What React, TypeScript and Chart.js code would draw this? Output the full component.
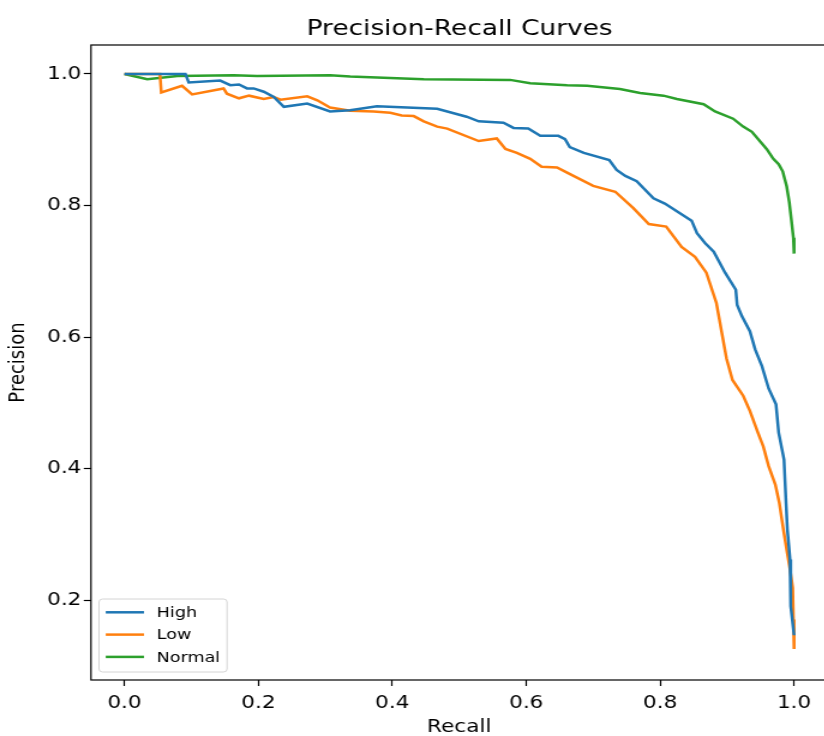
import { useEffect, useRef } from "react";
import { Chart, registerables } from "chart.js";

Chart.register(...registerables);

const chartTitle = "Precision-Recall Curves";
const xLabel = "Recall";
const yLabel = "Precision";
const seriesNames = ["High", "Low", "Normal"];
const seriesColors = ["#1f77b4", "#ff7f0e", "#2ca02c"];
const xTicks = [0.0, 0.2, 0.4, 0.6, 0.8, 1.0];
const yTicks = [0.2, 0.4, 0.6, 0.8, 1.0];

const highRecall = [0, 0.091, 0.096, 0.143, 0.158, 0.171, 0.183, 0.193, 0.208, 0.223, 0.238, 0.273, 0.307, 0.337, 0.377, 0.422, 0.467, 0.511, 0.529, 0.566, 0.581, 0.603, 0.621, 0.648, 0.658, 0.665, 0.686, 0.724, 0.735, 0.748, 0.765, 0.790, 0.807, 0.847, 0.855, 0.867, 0.880, 0.897, 0.913, 0.915, 0.922, 0.934, 0.942, 0.952, 0.962, 0.973, 0.977, 0.985, 0.988, 0.990, 0.994, 0.995, 1.0];
const highPrecision = [1.0, 1.0, 0.987, 0.990, 0.983, 0.984, 0.978, 0.978, 0.973, 0.965, 0.950, 0.955, 0.943, 0.945, 0.951, 0.949, 0.947, 0.935, 0.928, 0.926, 0.918, 0.917, 0.906, 0.906, 0.901, 0.889, 0.880, 0.869, 0.854, 0.845, 0.837, 0.811, 0.803, 0.777, 0.758, 0.743, 0.730, 0.698, 0.672, 0.649, 0.632, 0.609, 0.581, 0.556, 0.522, 0.498, 0.455, 0.414, 0.348, 0.308, 0.262, 0.191, 0.147];

const lowRecall = [0, 0.053, 0.055, 0.086, 0.101, 0.148, 0.153, 0.171, 0.186, 0.208, 0.223, 0.233, 0.273, 0.288, 0.307, 0.337, 0.372, 0.397, 0.414, 0.432, 0.447, 0.467, 0.482, 0.529, 0.556, 0.569, 0.586, 0.606, 0.623, 0.646, 0.661, 0.700, 0.733, 0.760, 0.783, 0.809, 0.832, 0.852, 0.869, 0.884, 0.899, 0.908, 0.924, 0.934, 0.946, 0.954, 0.962, 0.972, 0.978, 0.984, 0.989, 0.994, 0.998, 0.999, 1.0];
const lowPrecision = [1.0, 1.0, 0.972, 0.982, 0.969, 0.978, 0.970, 0.963, 0.967, 0.962, 0.965, 0.961, 0.966, 0.960, 0.949, 0.944, 0.943, 0.941, 0.937, 0.936, 0.928, 0.920, 0.917, 0.898, 0.902, 0.886, 0.880, 0.871, 0.859, 0.858, 0.850, 0.830, 0.821, 0.796, 0.772, 0.768, 0.737, 0.722, 0.698, 0.652, 0.568, 0.535, 0.511, 0.488, 0.455, 0.434, 0.404, 0.376, 0.348, 0.308, 0.277, 0.247, 0.219, 0.171, 0.126];

const normalRecall = [0, 0.034, 0.079, 0.163, 0.198, 0.307, 0.337, 0.447, 0.576, 0.606, 0.661, 0.691, 0.740, 0.770, 0.805, 0.825, 0.865, 0.882, 0.909, 0.924, 0.937, 0.959, 0.969, 0.977, 0.983, 0.989, 0.993, 0.996, 0.999, 1.0];
const normalPrecision = [1.0, 0.992, 0.997, 0.998, 0.997, 0.998, 0.996, 0.992, 0.991, 0.986, 0.983, 0.982, 0.977, 0.971, 0.967, 0.962, 0.954, 0.943, 0.932, 0.920, 0.912, 0.886, 0.871, 0.863, 0.852, 0.829, 0.804, 0.778, 0.751, 0.727];

const xMin = -0.05;
const xMax = 1.05;
const yMin = 0.079;
const yMax = 1.044;

const STRETCH = 1.2;
const W = 766;
const H = 736;
const PLOT_LEFT = 75.8;
const PLOT_RIGHT = 689.6;
const PLOT_BOTTOM = 680;
const FONT = "'DejaVu Sans', sans-serif";

const framePlugin = {
  id: "frameAndLegend",
  afterDatasetsDraw(chart: any) {
    const { ctx, chartArea: a } = chart;
    ctx.save();
    ctx.strokeStyle = "#000";
    ctx.lineWidth = 1.2;
    ctx.strokeRect(a.left, a.top, a.right - a.left, a.bottom - a.top);

    const lw = 106.7;
    const lh = 73;
    const lx = a.left + 6.7;
    const ly = a.bottom - 8 - lh;
    const r = 3;
    ctx.beginPath();
    ctx.moveTo(lx + r, ly);
    ctx.lineTo(lx + lw - r, ly);
    ctx.arcTo(lx + lw, ly, lx + lw, ly + r, r);
    ctx.lineTo(lx + lw, ly + lh - r);
    ctx.arcTo(lx + lw, ly + lh, lx + lw - r, ly + lh, r);
    ctx.lineTo(lx + r, ly + lh);
    ctx.arcTo(lx, ly + lh, lx, ly + lh - r, r);
    ctx.lineTo(lx, ly + r);
    ctx.arcTo(lx, ly, lx + r, ly, r);
    ctx.closePath();
    ctx.fillStyle = "rgba(255,255,255,0.8)";
    ctx.fill();
    ctx.strokeStyle = "#d4d4d4";
    ctx.lineWidth = 1;
    ctx.stroke();

    chart.data.datasets.forEach((ds: any, i: number) => {
      const y = ly + 13.3 + i * 22.3;
      ctx.beginPath();
      ctx.strokeStyle = ds.borderColor;
      ctx.lineWidth = 2.5;
      ctx.moveTo(lx + 5.6, y);
      ctx.lineTo(lx + 37.5, y);
      ctx.stroke();
      ctx.fillStyle = "#000";
      ctx.font = `14.6px ${FONT}`;
      ctx.textBaseline = "middle";
      ctx.textAlign = "left";
      ctx.fillText(ds.label, lx + 48.1, y + 1);
    });
    ctx.restore();
  },
};

export default function App() {
  const ref = useRef<HTMLCanvasElement | null>(null);

  useEffect(() => {
    if (!ref.current) return;
    const recalls = [highRecall, lowRecall, normalRecall];
    const precisions = [highPrecision, lowPrecision, normalPrecision];
    const chart = new Chart(ref.current, {
      type: "line",
      data: {
        datasets: seriesNames.map((name, i) => ({
          label: name,
          data: recalls[i].map((x, j) => ({ x, y: precisions[i][j] })),
          borderColor: seriesColors[i],
          backgroundColor: seriesColors[i],
          borderWidth: 2.5,
          pointRadius: 0,
          tension: 0,
          fill: false,
          yAxisID: "y",
        })),
      },
      options: {
        responsive: false,
        animation: false,
        devicePixelRatio: 1,
        layout: { padding: { left: 0, right: 0, top: 0, bottom: 0 } },
        plugins: {
          legend: { display: false },
          tooltip: { enabled: false },
          title: {
            display: true,
            text: chartTitle,
            color: "#000",
            font: { family: FONT, size: 22, weight: "normal", lineHeight: 1.2 },
            padding: { top: 15.8, bottom: 2.8 },
          },
        },
        scales: {
          x: {
            type: "linear",
            min: xMin,
            max: xMax,
            afterBuildTicks: (s: any) => {
              s.ticks = xTicks.map((v) => ({ value: v }));
            },
            afterFit: (s: any) => {
              s.height = H - PLOT_BOTTOM;
            },
            ticks: {
              color: "#000",
              font: { family: FONT, size: 18 },
              padding: 7,
              maxRotation: 0,
              autoSkip: false,
              callback: (v: any) => Number(v).toFixed(1),
            },
            grid: { drawOnChartArea: false, drawTicks: true, tickLength: 6, tickColor: "#000", tickWidth: 1.2 },
            border: { display: false },
            title: {
              display: true,
              text: xLabel,
              color: "#000",
              font: { family: FONT, size: 18, lineHeight: 1.0 },
              padding: { top: 0, bottom: 0 },
            },
          },
          y: {
            type: "linear",
            position: "left",
            min: yMin,
            max: yMax,
            afterBuildTicks: (s: any) => {
              s.ticks = yTicks.map((v) => ({ value: v }));
            },
            afterFit: (s: any) => {
              s.width = PLOT_LEFT;
            },
            ticks: {
              color: "#000",
              font: { family: FONT, size: 18 },
              padding: 2,
              autoSkip: false,
              callback: (v: any) => Number(v).toFixed(1),
            },
            grid: { drawOnChartArea: false, drawTicks: true, tickLength: 6, tickColor: "#000", tickWidth: 1.2 },
            border: { display: false },
            title: {
              display: true,
              text: yLabel,
              color: "#000",
              font: { family: FONT, size: 18, lineHeight: 1.2 },
              padding: { top: 5, bottom: 0 },
            },
          },
          yPad: {
            type: "linear",
            position: "right",
            min: yMin,
            max: yMax,
            display: true,
            afterFit: (s: any) => {
              s.width = W - PLOT_RIGHT;
            },
            ticks: { display: false },
            grid: { display: false, drawTicks: false },
            border: { display: false },
          },
        },
      },
      plugins: [framePlugin],
    } as any);
    return () => chart.destroy();
  }, []);

  return (
    <div style={{ position: "fixed", left: 0, top: 0, width: 824, height: 736, overflow: "hidden", background: "#fff" }}>
      <div style={{ width: W, height: H, transform: `scaleX(${STRETCH})`, transformOrigin: "0 0" }}>
        <canvas ref={ref} width={W} height={H} style={{ display: "block" }} />
      </div>
    </div>
  );
}
